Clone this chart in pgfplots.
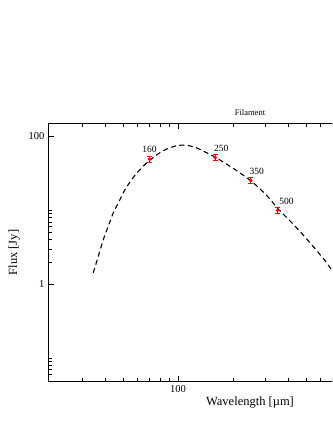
\documentclass[border=0pt]{standalone}
\usepackage{fontspec}
\setmainfont{Liberation Serif}
\usepackage{pgfplots}
\pgfplotsset{compat=1.18}
\begin{document}
\begin{tikzpicture}
\useasboundingbox (0pt,0pt) rectangle (332pt,430pt);
\clip (0pt,0pt) rectangle (332pt,430pt);
\begin{axis}[
  at={(48pt,48.3pt)}, anchor=south west,
  scale only axis, width=404pt, height=258.4pt,
  xmode=log, ymode=log,
  xmin=19.5, xmax=3140, ymin=0.048, ymax=151,
  axis line style={line width=0.8pt},
  xtick={100}, xticklabels={100},
  minor xtick={30,40,50,60,70,80,90,200,300,400,500,600,700,800,900},
  ytick={1,100}, yticklabels={1,100},
  minor ytick={0.06,0.07,0.08,0.09,0.1,2,3,4,5,6,7,8,9,10},
  tick align=inside,
  major tick length=6pt, minor tick length=4pt,
  tick style={black, line width=0.6pt},
  xtick pos=both, ytick pos=left,
  ticklabel style={font=\fontsize{10.5}{12}\selectfont},
  xlabel={Wavelength [µm]}, ylabel={Flux [Jy]},
  label style={font=\fontsize{12.5}{14}\selectfont},
  xlabel style={yshift=2pt},
  ylabel style={yshift=2pt},
  title={Filament},
  title style={font=\fontsize{8.5}{10}\selectfont, yshift=-2pt},
  clip=true,
]
\addplot[black, line width=1.1pt, dash pattern=on 5pt off 3.5pt, smooth, tension=0.5] coordinates {
(34.45,1.43) (36.7,2.39) (39.1,4.02) (41.6,6.08) (44.3,9.22) (47.2,12.6) (51.3,19.0)
(55.8,26.0) (60.7,33.7) (68.8,45.9) (81.5,62.7) (90,70) (97,74.5) (105,76.5) (115,75)
(126,70.5) (140,62) (159.4,52.7) (200.5,37) (252.7,24.6) (305.5,15.9) (353.5,10.4)
(427,6.47) (526,3.66) (649,1.96) (692,1.55) (800,1.0)
};
\addplot[red, only marks, mark=*, mark size=1.6pt,
  error bars/.cd, y dir=both, y explicit,
  error bar style={red, line width=0.9pt},
  error mark options={rotate=90, mark size=2.5pt, red, line width=0.9pt}]
  coordinates {
  (70,49.5) +- (0,4.7)
  (160,52) +- (0,5)
  (250,25.4) +- (0,2.4)
  (350,10) +- (0,1)
};
\node[font=\fontsize{9.5}{11}\selectfont] at (axis cs:70,49.5) [yshift=9.5pt] {160};
\node[font=\fontsize{9.5}{11}\selectfont] at (axis cs:160,52) [xshift=6pt, yshift=9.5pt] {250};
\node[font=\fontsize{9.5}{11}\selectfont] at (axis cs:250,25.4) [xshift=6pt, yshift=9.5pt] {350};
\node[font=\fontsize{9.5}{11}\selectfont] at (axis cs:350,10) [xshift=9pt, yshift=9.5pt] {500};
\end{axis}
\end{tikzpicture}
\end{document}
